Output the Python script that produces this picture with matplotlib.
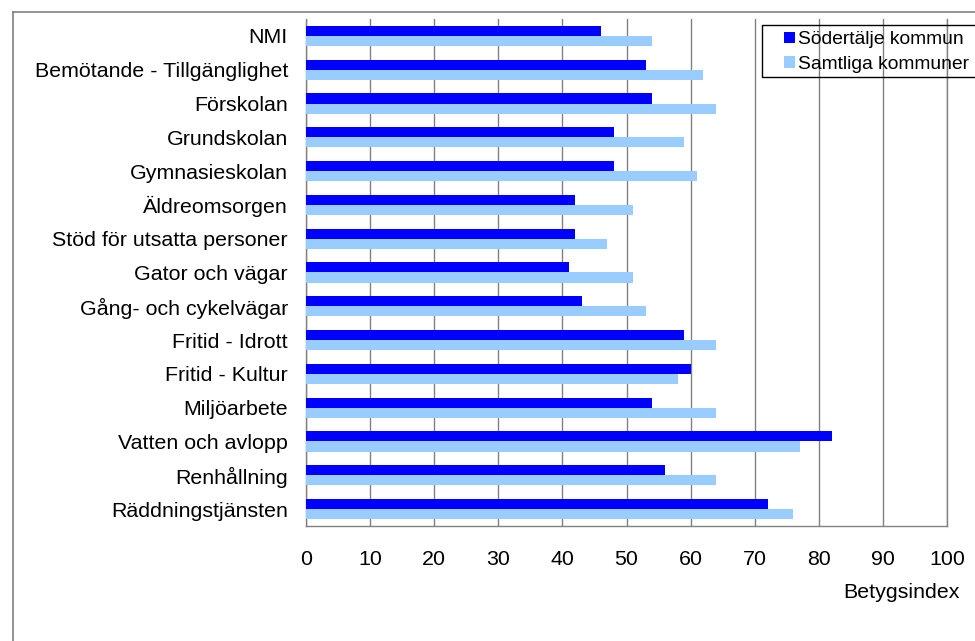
import numpy as np
import matplotlib
matplotlib.use("Agg")
import matplotlib.pyplot as plt
from matplotlib.lines import Line2D
from matplotlib.patches import Rectangle

plt.rcParams['font.family'] = ['Liberation Sans', 'DejaVu Sans']

# categories from top to bottom
categories = ["NMI", "Bemötande - Tillgänglighet", "Förskolan", "Grundskolan",
              "Gymnasieskolan", "Äldreomsorgen", "Stöd för utsatta personer",
              "Gator och vägar", "Gång- och cykelvägar", "Fritid - Idrott",
              "Fritid - Kultur", "Miljöarbete", "Vatten och avlopp",
              "Renhållning", "Räddningstjänsten"]
sodertalje = [46, 53, 54, 48, 48, 42, 42, 41, 43, 59, 60, 54, 82, 56, 72]
samtliga = [54, 62, 64, 59, 61, 51, 47, 51, 53, 64, 58, 64, 77, 64, 76]
xticks = [0, 10, 20, 30, 40, 50, 60, 70, 80, 90, 100]

fig = plt.figure(figsize=(9.75, 6.41), dpi=100)
W, H = 975, 641
ax = fig.add_axes([306 / W, 1 - 526 / H, (947 - 306) / W, (526 - 19) / H])

y = np.arange(len(categories))
h = 0.3
ax.barh(y - h / 2, sodertalje, height=h, color="#0000FF", label="Södertälje kommun", zorder=3)
ax.barh(y + h / 2, samtliga, height=h, color="#99CCFF", label="Samtliga kommuner", zorder=3)

ax.set_xlim(0, 100)
ax.set_ylim(len(categories) - 0.5, -0.5)
ax.set_xticks(xticks)
ax.set_yticks(y)
ax.set_yticklabels(categories)
ax.tick_params(axis="y", length=0, pad=13, labelsize=15.4)
ax.tick_params(axis="x", length=0, pad=17, labelsize=15.4)
ax.grid(axis="x", color="#808080", linewidth=1, zorder=0)
for s in ["left", "bottom", "right"]:
    ax.spines[s].set_color("#808080")
    ax.spines[s].set_linewidth(1)
ax.spines["top"].set_visible(False)

# outer chart frame
fig.add_artist(Line2D([13 / W, 13 / W], [0, 1 - 12 / H], color="#808080", lw=1.2,
                      transform=fig.transFigure))
fig.add_artist(Line2D([13 / W, 1], [1 - 12 / H, 1 - 12 / H], color="#808080", lw=1.2,
                      transform=fig.transFigure))

fig.text(960 / W, 1 - 593 / H, "Betygsindex", ha="right", va="center", fontsize=15.4)

# legend box (transparent, gridlines show through) drawn separately so it can run off the edge
fig.add_artist(Rectangle((762 / W, 1 - 77 / H), 240 / W, 52 / H, transform=fig.transFigure,
                         facecolor="none", edgecolor="black", lw=1, zorder=4))
leg = fig.legend(loc="upper left", bbox_to_anchor=(784 / W, 1 - 31.5 / H), fontsize=13.9,
                 frameon=False, handlelength=0.55, handleheight=0.55,
                 handletextpad=0.2, borderpad=0, labelspacing=0.38, borderaxespad=0)
leg.set_zorder(5)

fig.savefig("out.png", dpi=100)
